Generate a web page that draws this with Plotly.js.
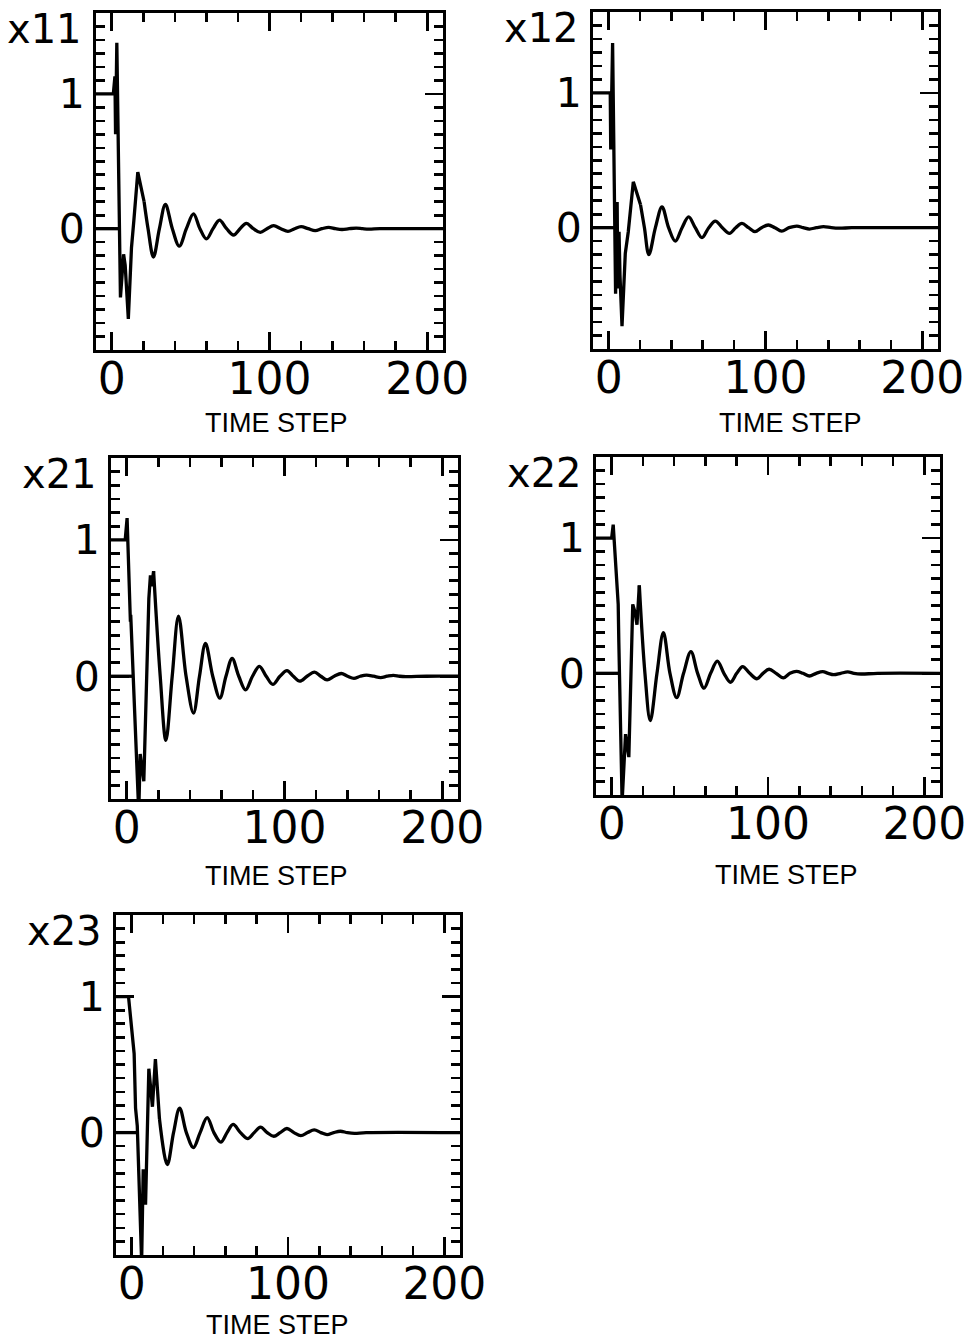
<!DOCTYPE html>
<html><head><meta charset="utf-8">
<script src="https://cdn.plot.ly/plotly-3.0.1.min.js"></script>
<style>html,body{margin:0;padding:0;background:#fff}#chart{width:970px;height:1340px}</style>
</head><body><div id="chart"></div>
<script>
// ---- labels ----
const panelLabels = ["x11", "x12", "x21", "x22", "x23"];
const xTickVals = [0, 100, 200];
const xTickText = ["0", "100", "200"];
const yTickVals = [0, 1];
const yTickText = ["0", "1"];
const xAxisTitle = "TIME STEP";

// ---- x11 ----
const x11_base_t = [-10, 4.5];
const x11_base_v = [0, 0];
const x11_early_t = [-10, 1, 2, 2.4, 3.2, 5.5, 7.5, 8.5, 10.5, 12.5, 14, 16.5, 20.5];
const x11_early_v = [1, 1, 1.13, 0.7, 1.38, -0.51, -0.19, -0.27, -0.67, -0.14, 0.06, 0.42, 0.2];
const x11_tail_t = [20.5, 23, 26.4, 30.2, 34, 38.4, 42.8, 47.3, 51.8, 55.9, 60, 64.2, 68.3, 72.8, 77.2, 81.3, 85.3, 89.8, 94.2, 98.4, 102.6, 107.2, 111.7, 115.9, 120, 124.5, 129, 133.3, 137.5, 141.8, 146, 150.5, 155, 159, 163, 170, 190, 210];
const x11_tail_v = [0.2, 0, -0.21, 0, 0.18, 0, -0.13, 0, 0.11, 0, -0.076, 0, 0.064, 0, -0.047, 0, 0.04, 0, -0.027, 0, 0.022, 0, -0.02, 0, 0.015, 0, -0.015, 0, 0.01, 0, -0.006, 0, 0.004, 0, -0.003, 0, 0, 0];

// ---- x12 ----
const x12_base_t = [-10, 3.9];
const x12_base_v = [0, 0];
const x12_early_t = [-10, 1, 1.3, 2.5, 4.4, 5.4, 5.8, 6.6, 7.2, 8.5, 10.6, 12.5, 15.7, 20.3];
const x12_early_v = [1, 1, 0.58, 1.37, -0.49, 0.19, -0.45, -0.03, -0.35, -0.73, -0.19, -0.03, 0.34, 0.17];
const x12_tail_t = [20.3, 22.8, 25.6, 29.8, 34, 38.2, 42.5, 46.8, 51, 55.2, 59.5, 63.8, 68, 72.5, 77, 81, 85, 89.2, 93.3, 97.5, 101.8, 106, 110.3, 115, 120, 124, 128, 132.5, 137, 142, 147, 155, 175, 210];
const x12_tail_v = [0.17, 0, -0.2, 0, 0.155, 0, -0.10, 0, 0.08, 0, -0.074, 0, 0.049, 0, -0.042, 0, 0.032, 0, -0.03, 0, 0.02, 0, -0.025, 0, 0.012, 0, -0.01, 0, 0.008, 0, -0.004, 0, 0, 0];

// ---- x21 ----
const x21_base_t = [-10, 4.1];
const x21_base_v = [0, 0];
const x21_early_t = [-10, -1, 0.2, 2.3, 2.5, 7.6, 8.5, 9.5, 10.8, 14, 15, 15.8, 17];
const x21_early_v = [1, 1, 1.16, 0.40, 0.45, -1.0, -0.57, -0.66, -0.77, 0.57, 0.74, 0.66, 0.77];
const x21_tail_t = [17, 21.2, 24.8, 28.8, 32.8, 37.6, 42.3, 46.1, 49.9, 54.5, 59, 62.9, 66.8, 71, 75.3, 79.7, 84.1, 88.4, 92.6, 97.1, 101.6, 105.6, 109.7, 114.3, 119, 123, 127, 131.5, 136, 140, 144, 148, 152, 156.5, 161, 165, 169, 173, 177, 190, 210];
const x21_tail_v = [0.77, 0, -0.47, 0, 0.44, 0, -0.27, 0, 0.24, 0, -0.16, 0, 0.13, 0, -0.10, 0, 0.073, 0, -0.06, 0, 0.041, 0, -0.036, 0, 0.03, 0, -0.027, 0, 0.02, 0, -0.015, 0, 0.008, 0, -0.01, 0, 0.007, 0, -0.003, 0, 0];

// ---- x22 ----
const x22_base_t = [-10, 5];
const x22_base_v = [0, 0];
const x22_early_t = [-10, 0, 1, 4.2, 4.6, 6.7, 8.9, 10, 11, 13.5, 15, 16.2, 17.7];
const x22_early_v = [1, 1, 1.10, 0.51, 0.23, -0.95, -0.45, -0.55, -0.62, 0.51, 0.45, 0.36, 0.65];
const x22_tail_t = [17.7, 21.3, 24.7, 29, 33.1, 37.3, 41.6, 46, 50.7, 55, 59.1, 63.3, 67.6, 71.8, 76, 80, 83.8, 88.3, 92.9, 96.8, 100.7, 105.2, 109.8, 114, 118.2, 122.4, 126.5, 130.8, 135, 138.5, 142, 146.5, 151, 155, 159.5, 170, 210];
const x22_tail_v = [0.65, 0, -0.35, 0, 0.30, 0, -0.18, 0, 0.16, 0, -0.11, 0, 0.09, 0, -0.066, 0, 0.05, 0, -0.04, 0, 0.03, 0, -0.034, 0, 0.015, 0, -0.02, 0, 0.012, 0, -0.01, 0, 0.01, 0, -0.005, 0, 0];

// ---- x23 ----
const x23_base_t = [-10, 3.7];
const x23_base_v = [0, 0];
const x23_early_t = [-10, -2, 1.6, 2.5, 3.6, 6.4, 7.4, 8.9, 11, 13.3, 15.2, 17.8];
const x23_early_v = [1, 1, 0.58, 0.18, 0.05, -0.95, -0.27, -0.53, 0.47, 0.19, 0.54, 0.1];
const x23_tail_t = [17.8, 22.8, 26.8, 30.7, 35, 39.5, 43.8, 48.3, 52.6, 57, 61, 64.9, 69.6, 74.4, 78.4, 82.4, 86.7, 90.9, 95, 99.3, 103.8, 108.2, 112.5, 116.8, 121, 125, 129.2, 133.5, 138, 142.5, 150, 210];
const x23_tail_v = [0.1, -0.235, 0, 0.18, 0, -0.11, 0, 0.11, 0, -0.07, 0, 0.06, 0, -0.044, 0, 0.04, 0, -0.027, 0, 0.03, 0, -0.022, 0, 0.02, 0, -0.015, 0, 0.01, 0, -0.005, 0, 0];

const series = [
  [x11_base_t, x11_base_v, x11_early_t, x11_early_v, x11_tail_t, x11_tail_v],
  [x12_base_t, x12_base_v, x12_early_t, x12_early_v, x12_tail_t, x12_tail_v],
  [x21_base_t, x21_base_v, x21_early_t, x21_early_v, x21_tail_t, x21_tail_v],
  [x22_base_t, x22_base_v, x22_early_t, x22_early_v, x22_tail_t, x22_tail_v],
  [x23_base_t, x23_base_v, x23_early_t, x23_early_v, x23_tail_t, x23_tail_v]
];

// ---- layout geometry (pixels: left, right, top, bottom) ----
const W = 970, H = 1340;
const boxes = [[96, 443, 13, 350], [593, 938, 12, 349], [111, 458, 458, 799], [596, 940, 457, 795], [116, 460, 915, 1255]];
// centre of the "TIME STEP" caption, pixels
const captionPos = [[276, 423], [790, 423], [276, 876], [786, 875], [277, 1325]];

const lineStyle = {color: '#000', width: 3.3};
const traces = [];
const layout = {
  width: W, height: H, margin: {l: 0, r: 0, t: 0, b: 0},
  paper_bgcolor: '#fff', plot_bgcolor: '#fff', showlegend: false,
  font: {family: 'DejaVu Sans', color: '#000'},
  annotations: []
};

boxes.forEach((b, i) => {
  const n = i + 1;
  const xa = 'x' + (n === 1 ? '' : n), ya = 'y' + (n === 1 ? '' : n);
  const [bt, bv, et, ev, tt, tv] = series[i];
  traces.push({x: bt, y: bv, xaxis: xa, yaxis: ya, type: 'scatter', mode: 'lines', line: lineStyle, hoverinfo: 'skip'});
  traces.push({x: et, y: ev, xaxis: xa, yaxis: ya, type: 'scatter', mode: 'lines', line: lineStyle, hoverinfo: 'skip'});
  traces.push({x: tt, y: tv, xaxis: xa, yaxis: ya, type: 'scatter', mode: 'lines', line: Object.assign({shape: 'spline', smoothing: 1}, lineStyle), hoverinfo: 'skip'});

  const common = {
    showline: true, linecolor: '#000', linewidth: 3, mirror: 'ticks',
    ticks: 'inside', ticklen: 18, tickwidth: 2.6, tickcolor: '#000',
    showgrid: false, zeroline: false, fixedrange: true, automargin: false
  };
  layout['xaxis' + (n === 1 ? '' : n)] = Object.assign({}, common, {
    domain: [b[0] / W, b[1] / W], anchor: ya, range: [-10, 210],
    tickmode: 'array', tickvals: xTickVals, ticktext: xTickText,
    tickfont: {family: 'DejaVu Sans', size: 44, color: '#000'},
    ticklabelstandoff: -12,
    minor: {ticks: 'inside', ticklen: 9, tickwidth: 2.6, tickcolor: '#000', tickmode: 'linear', tick0: 0, dtick: 20, showgrid: false}
  });
  layout['yaxis' + (n === 1 ? '' : n)] = Object.assign({}, common, {
    domain: [1 - b[3] / H, 1 - b[2] / H], anchor: xa, range: [-0.9, 1.6],
    tickmode: 'array', tickvals: yTickVals, ticktext: yTickText,
    tickfont: {family: 'DejaVu Sans', size: 41, color: '#000'},
    minor: {ticks: 'inside', ticklen: 9, tickwidth: 2.6, tickcolor: '#000', tickmode: 'linear', tick0: 0, dtick: 0.1, showgrid: false}
  });
  layout.annotations.push({
    text: panelLabels[i], xref: 'paper', yref: 'paper',
    x: (b[0] - 12) / W, xanchor: 'right', y: 1 - (b[2] + 16) / H, yanchor: 'middle',
    showarrow: false, font: {family: 'DejaVu Sans', size: 40, color: '#000'}
  });
  layout.annotations.push({
    text: xAxisTitle, xref: 'paper', yref: 'paper',
    x: captionPos[i][0] / W, xanchor: 'center', y: 1 - captionPos[i][1] / H, yanchor: 'middle',
    showarrow: false, font: {family: 'Liberation Sans', size: 27, color: '#000'}
  });
});

Plotly.newPlot('chart', traces, layout, {displayModeBar: false, staticPlot: true});
</script>
</body></html>
